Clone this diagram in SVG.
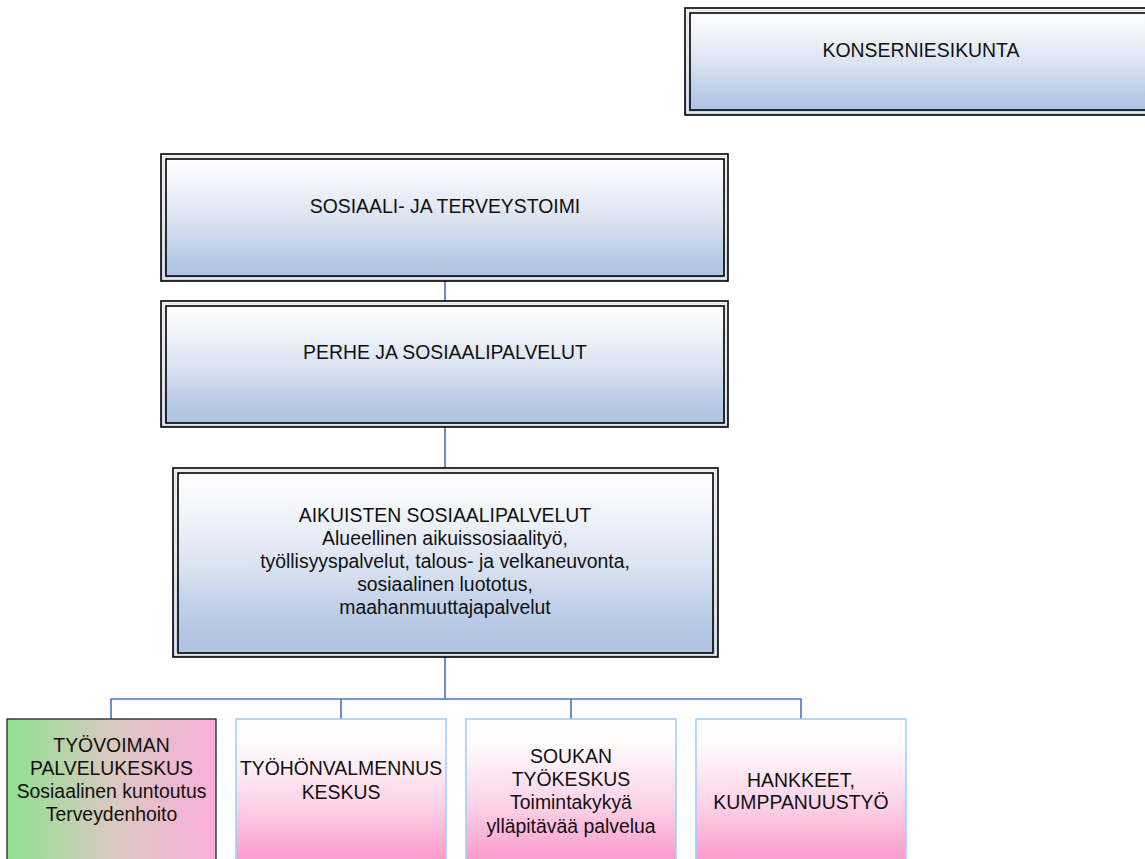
<svg xmlns="http://www.w3.org/2000/svg" width="1145" height="859" viewBox="0 0 1145 859">
<defs>
<linearGradient id="gBlue" x1="0" y1="0" x2="0" y2="1">
<stop offset="0" stop-color="#ffffff"/>
<stop offset="0.15" stop-color="#f8f9fc"/>
<stop offset="0.5" stop-color="#dce4f1"/>
<stop offset="0.85" stop-color="#b4c7e5"/>
<stop offset="1" stop-color="#afc3e3"/>
</linearGradient>
<linearGradient id="gPink" gradientUnits="userSpaceOnUse" x1="0" y1="719" x2="0" y2="880">
<stop offset="0" stop-color="#ffffff"/>
<stop offset="0.15" stop-color="#fffcfe"/>
<stop offset="0.55" stop-color="#fcd0e6"/>
<stop offset="0.85" stop-color="#fa9fcd"/>
<stop offset="1" stop-color="#f996c8"/>
</linearGradient>
<linearGradient id="gGreen" x1="0" y1="0" x2="1" y2="0">
<stop offset="0" stop-color="#8fe08f"/>
<stop offset="0.5" stop-color="#d9c9c0"/>
<stop offset="1" stop-color="#fbaedb"/>
</linearGradient>
</defs>
<style>
.outer{fill:url(#gBlue);stroke:#000;stroke-width:1.6}
.inner{fill:none;stroke:#000;stroke-width:1.6}
.gap{fill:none;stroke:#e6e6e6;stroke-width:2}
.pink{fill:url(#gPink);stroke:#9fd0ff;stroke-width:1.6}
.green{fill:url(#gGreen);stroke:#111;stroke-width:1.2}
.t{font-family:"Liberation Sans",Arial,sans-serif;font-size:19.4px;fill:#111;text-anchor:middle}
.conn{fill:none;stroke:#4a76c0;stroke-width:1.6}
</style>
<rect width="1145" height="859" fill="#ffffff"/>
<g id="connectors">
<path class="conn" d="M445 281V301M445 427V468M445 657V699M111 719V699H801V719M341 699V719M571 699V719"/>
</g>
<g id="konserniesikunta">
<rect class="outer" x="685" y="8" width="480" height="107"/>
<rect class="gap" x="687.5" y="10.5" width="480" height="102"/>
<rect class="inner" x="690" y="13" width="470" height="97"/>
<text class="t" x="921" y="57">KONSERNIESIKUNTA</text>
</g>
<g id="sosiaali-ja-terveystoimi">
<rect class="outer" x="161" y="154" width="567" height="127"/>
<rect class="gap" x="163.5" y="156.5" width="562" height="122"/>
<rect class="inner" x="166" y="159" width="558" height="117"/>
<text class="t" x="445" y="213">SOSIAALI- JA TERVEYSTOIMI</text>
</g>
<g id="perhe-ja-sosiaalipalvelut">
<rect class="outer" x="161" y="301" width="567" height="126"/>
<rect class="gap" x="163.5" y="303.5" width="562" height="121"/>
<rect class="inner" x="166" y="306" width="558" height="117"/>
<text class="t" x="445" y="359">PERHE JA SOSIAALIPALVELUT</text>
</g>
<g id="aikuisten-sosiaalipalvelut">
<rect class="outer" x="173" y="468" width="545" height="189"/>
<rect class="gap" x="175.5" y="470.5" width="540" height="184"/>
<rect class="inner" x="178" y="473" width="535" height="180"/>
<text class="t" x="445" y="522">AIKUISTEN SOSIAALIPALVELUT</text>
<text class="t" x="445" y="545">Alueellinen aikuissosiaalityö,</text>
<text class="t" x="445" y="568">työllisyyspalvelut, talous- ja velkaneuvonta,</text>
<text class="t" x="445" y="591">sosiaalinen luototus,</text>
<text class="t" x="445" y="614">maahanmuuttajapalvelut</text>
</g>
<g id="tyovoiman-palvelukeskus">
<rect class="green" x="7" y="719" width="209" height="160"/>
<text class="t" x="111.5" y="752">TYÖVOIMAN</text>
<text class="t" x="111.5" y="775">PALVELUKESKUS</text>
<text class="t" x="111.5" y="798">Sosiaalinen kuntoutus</text>
<text class="t" x="111.5" y="821">Terveydenhoito</text>
</g>
<g id="tyohonvalmennuskeskus">
<rect class="pink" x="236" y="719" width="210" height="160"/>
<text class="t" x="341" y="775">TYÖHÖNVALMENNUS</text>
<text class="t" x="341" y="799">KESKUS</text>
</g>
<g id="soukan-tyokeskus">
<rect class="pink" x="466" y="719" width="210" height="160"/>
<text class="t" x="571" y="763">SOUKAN</text>
<text class="t" x="571" y="786">TYÖKESKUS</text>
<text class="t" x="571" y="809">Toimintakykyä</text>
<text class="t" x="571" y="833">ylläpitävää palvelua</text>
</g>
<g id="hankkeet">
<rect class="pink" x="696" y="719" width="210" height="160"/>
<text class="t" x="801" y="787">HANKKEET,</text>
<text class="t" x="801" y="809">KUMPPANUUSTYÖ</text>
</g>
</svg>
